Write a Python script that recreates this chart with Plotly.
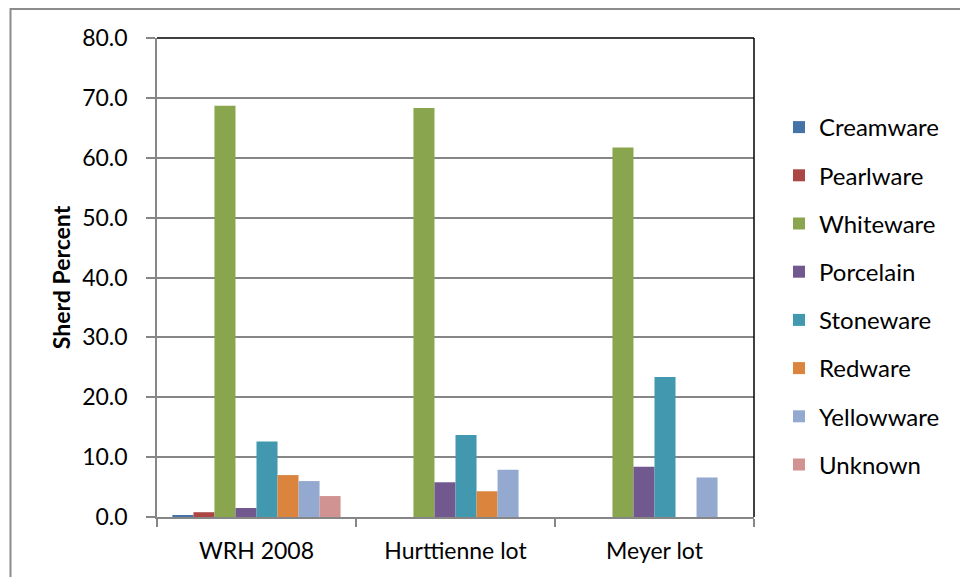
import plotly.graph_objects as go

# Sites (categories) and sherd percentages per ware type
sites = ["WRH 2008", "Hurttienne lot", "Meyer lot"]
creamware = [0.3, 0.0, 0.0]
pearlware = [0.8, 0.0, 0.0]
whiteware = [68.7, 68.3, 61.7]
porcelain = [1.5, 5.8, 8.4]
stoneware = [12.6, 13.7, 23.4]
redware = [7.0, 4.3, 0.0]
yellowware = [6.0, 7.9, 6.6]
unknown = [3.5, 0.0, 0.0]

ware_names = ["Creamware", "Pearlware", "Whiteware", "Porcelain",
              "Stoneware", "Redware", "Yellowware", "Unknown"]
ware_values = [creamware, pearlware, whiteware, porcelain,
               stoneware, redware, yellowware, unknown]
ware_colors = ["#4572A7", "#AA4643", "#89A54E", "#71588F",
               "#4198AF", "#DB843D", "#93A9CF", "#D19392"]

FONT = "Lato, 'Open Sans', sans-serif"

fig = go.Figure()
for name, vals, color in zip(ware_names, ware_values, ware_colors):
    fig.add_trace(go.Bar(
        x=sites, y=vals, name=name, legendgroup=name,
        marker=dict(color=color, line=dict(width=0)),
    ))

# plot-area geometry in pixels
W, H = 960, 577
L, R, T, B = 157, 206, 38, 60
pw, ph = W - L - R, H - T - B

def px_x(p):
    return (p - L) / pw

def px_y(p):
    return (H - B - p) / ph

fig.update_layout(
    width=W, height=H,
    margin=dict(l=L, r=R, t=T, b=B, pad=0),
    paper_bgcolor="white", plot_bgcolor="white",
    barmode="group", bargap=0.155, bargroupgap=0,
    font=dict(family=FONT, size=23, color="#000000"),
    showlegend=True,
    legend=dict(
        x=px_x(779), y=px_y(105), xanchor="left", yanchor="top",
        font=dict(family=FONT, size=24, color="#000000"),
        tracegroupgap=14, traceorder="grouped",
        bgcolor="rgba(0,0,0,0)",
    ),
    xaxis=dict(
        type="category", showgrid=False,
        showline=True, linecolor="#868686", linewidth=1.5,
        ticks="outside", tickson="boundaries", ticklen=8,
        tickcolor="#868686", tickwidth=1.5,
        tickfont=dict(family=FONT, size=23, color="#000000"),
        ticklabelstandoff=13,
    ),
    yaxis=dict(
        range=[0, 80], dtick=10, tickformat=".1f",
        showgrid=True, gridcolor="#868686", gridwidth=1.5,
        zeroline=False,
        showline=True, linecolor="#868686", linewidth=1.5,
        ticks="outside", ticklen=9, tickcolor="#868686", tickwidth=1.5,
        tickfont=dict(family=FONT, size=23, color="#000000"),
        ticklabelstandoff=14,
        title=dict(text="<b>Sherd Percent</b>",
                   font=dict(family=FONT, size=23, color="#000000"),
                   standoff=5),
    ),
)

# dark frame along the top and right edges of the plot area
fig.add_shape(type="line", xref="paper", yref="paper",
              x0=0, x1=1, y0=1, y1=1, line=dict(color="#000000", width=1.5))
fig.add_shape(type="line", xref="paper", yref="paper",
              x0=1, x1=1, y0=0, y1=1, line=dict(color="#000000", width=1.5))

# outer chart border
fig.add_shape(type="rect", xref="paper", yref="paper",
              x0=px_x(10.5), x1=px_x(990), y0=px_y(9), y1=px_y(600),
              line=dict(color="#8C8C8C", width=2), layer="above")

fig.write_html("out.html")
